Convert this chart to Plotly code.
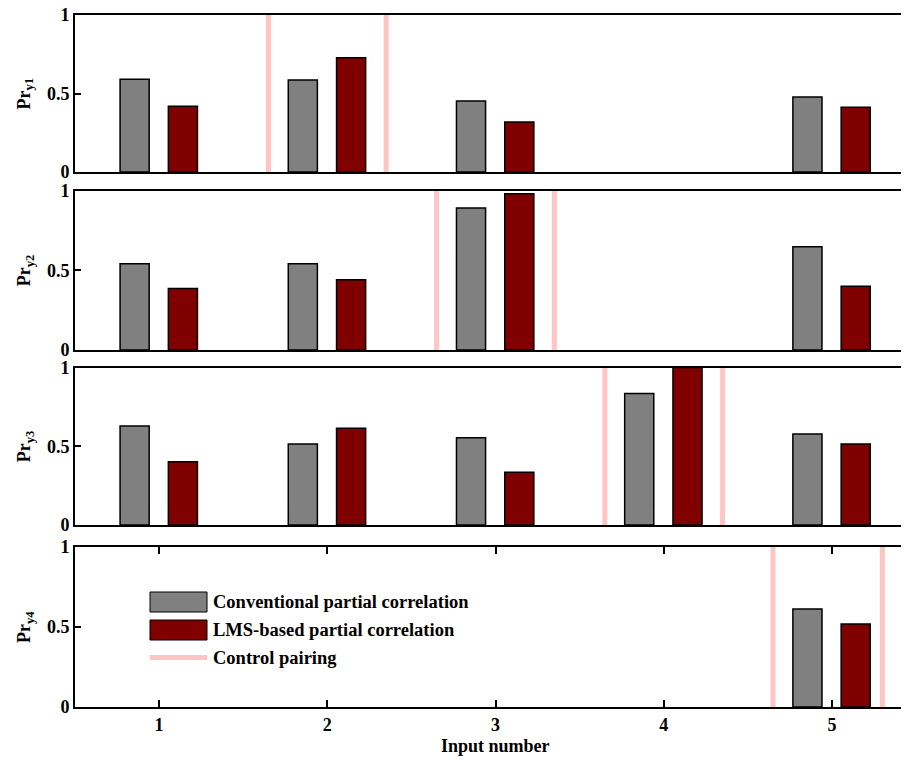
import plotly.graph_objects as go

# ---------------- data ----------------
inputs = [1, 2, 3, 4, 5]
conventional = [
    [0.59, 0.586, 0.452, None, 0.478],
    [0.54, 0.54, 0.89, None, 0.647],
    [0.628, 0.515, 0.554, 0.835, 0.578],
    [None, None, None, None, 0.613],
]
lms_based = [
    [0.418, 0.728, 0.318, None, 0.412],
    [0.386, 0.44, 0.98, None, 0.40],
    [0.402, 0.614, 0.335, 1.0, 0.514],
    [None, None, None, None, 0.518],
]
control_pairing = [
    [1.65, 2.35],
    [2.65, 3.35],
    [3.65, 4.35],
    [4.65, 5.30],
]
y_labels = ["Pr<sub>y1</sub>", "Pr<sub>y2</sub>", "Pr<sub>y3</sub>", "Pr<sub>y4</sub>"]
x_title = "Input number"
legend_names = ["Conventional partial correlation", "LMS-based partial correlation", "Control pairing"]
y_ticks = [0, 0.5, 1]
y_ticklabels = ["0", "0.5", "1"]

# ---------------- style ----------------
# The page body adds an 8px margin, so the figure is 8px smaller and all
# positions below are given in page pixels and converted.
PAGE_W, PAGE_H = 909, 764
OFF = 8
W, H = PAGE_W - OFF, PAGE_H - OFF
AX_LEFT = 75           # page px of left axis
ML = AX_LEFT - OFF
UNIT_PX = 168.2        # pixels per x unit
GRAY = "#808080"
RED = "#800000"
PINK = "#ffc4c4"
FONT = dict(family="Liberation Serif", size=18, color="black", weight="bold")


def px_x(p):
    return (p - AX_LEFT) / (W - ML)


def px_y(p):
    return (PAGE_H - p) / H


# page-pixel top/bottom of each axes
panel_px = [(15, 172), (190.5, 350), (367.5, 525), (547, 707)]

fig = go.Figure()
layout = dict(
    width=W, height=H,
    margin=dict(l=ML, r=0, t=0, b=0, pad=0),
    paper_bgcolor="white", plot_bgcolor="white",
    font=FONT, showlegend=False,
)

annotations = []
shapes = []
for i in range(4):
    n = i + 1
    xa = "x" if n == 1 else f"x{n}"
    ya = "y" if n == 1 else f"y{n}"
    fig.add_trace(go.Bar(
        x=inputs, y=conventional[i], xaxis=xa, yaxis=ya,
        width=0.173, offset=-0.232,
        marker=dict(color=GRAY, line=dict(color="black", width=1.5)),
        name=legend_names[0],
    ))
    fig.add_trace(go.Bar(
        x=inputs, y=lms_based[i], xaxis=xa, yaxis=ya,
        width=0.173, offset=0.055,
        marker=dict(color=RED, line=dict(color="black", width=1.5)),
        name=legend_names[1],
    ))
    for xc in control_pairing[i]:
        fig.add_trace(go.Scatter(
            x=[xc, xc], y=[0, 1], xaxis=xa, yaxis=ya, mode="lines",
            line=dict(color=PINK, width=5), name=legend_names[2],
            hoverinfo="skip",
        ))
    top, bot = panel_px[i]
    xkey = "xaxis" if n == 1 else f"xaxis{n}"
    ykey = "yaxis" if n == 1 else f"yaxis{n}"
    last = (n == 4)
    layout[xkey] = dict(
        domain=[0, 1], anchor=ya, range=[0.5, 0.5 + (W - ML) / UNIT_PX],
        showline=True, linecolor="black", linewidth=2,
        mirror="ticks" if last else True,
        ticks="inside" if last else "", ticklen=7, tickwidth=1.5, tickcolor="black",
        tickvals=inputs, showticklabels=last, showgrid=False, zeroline=False,
        tickfont=FONT, automargin=False,
    )
    if n != 1:
        layout[xkey]["matches"] = "x"
    layout[ykey] = dict(
        domain=[px_y(bot), px_y(top)], anchor=xa, range=[0, 1],
        showline=True, linecolor="black", linewidth=2,
        ticks="inside", ticklen=6, tickwidth=1.5, tickcolor="black",
        tickvals=y_ticks, ticktext=y_ticklabels, showgrid=False, zeroline=False,
        tickfont=FONT, automargin=False, ticklabeloverflow="allow",
    )
    annotations.append(dict(
        text=y_labels[i], xref="paper", yref="paper",
        x=px_x(25), y=px_y((top + bot) / 2), xanchor="center", yanchor="middle",
        textangle=-90, showarrow=False, font=FONT,
    ))

# x-axis title
annotations.append(dict(
    text=x_title, xref="x4", yref="paper", x=3, y=px_y(746),
    xanchor="center", yanchor="middle", showarrow=False, font=FONT,
))

# custom legend (swatches + text)
leg_rows = [601.5, 629.5, 657.5]
shapes.append(dict(type="rect", xref="paper", yref="paper",
                   x0=px_x(150), x1=px_x(207), y0=px_y(612), y1=px_y(592),
                   fillcolor=GRAY, line=dict(color="black", width=1)))
shapes.append(dict(type="rect", xref="paper", yref="paper",
                   x0=px_x(150), x1=px_x(207), y0=px_y(640), y1=px_y(620),
                   fillcolor=RED, line=dict(color="black", width=1)))
shapes.append(dict(type="line", xref="paper", yref="paper",
                   x0=px_x(150), x1=px_x(207), y0=px_y(657.5), y1=px_y(657.5),
                   line=dict(color=PINK, width=5)))
for name, yc in zip(legend_names, leg_rows):
    annotations.append(dict(
        text=name, xref="paper", yref="paper", x=px_x(211), y=px_y(yc),
        xanchor="left", yanchor="middle", showarrow=False,
        font=dict(FONT, size=18.5),
    ))

layout["annotations"] = annotations
layout["shapes"] = shapes
fig.update_layout(**layout)
fig.write_html("out.html")
